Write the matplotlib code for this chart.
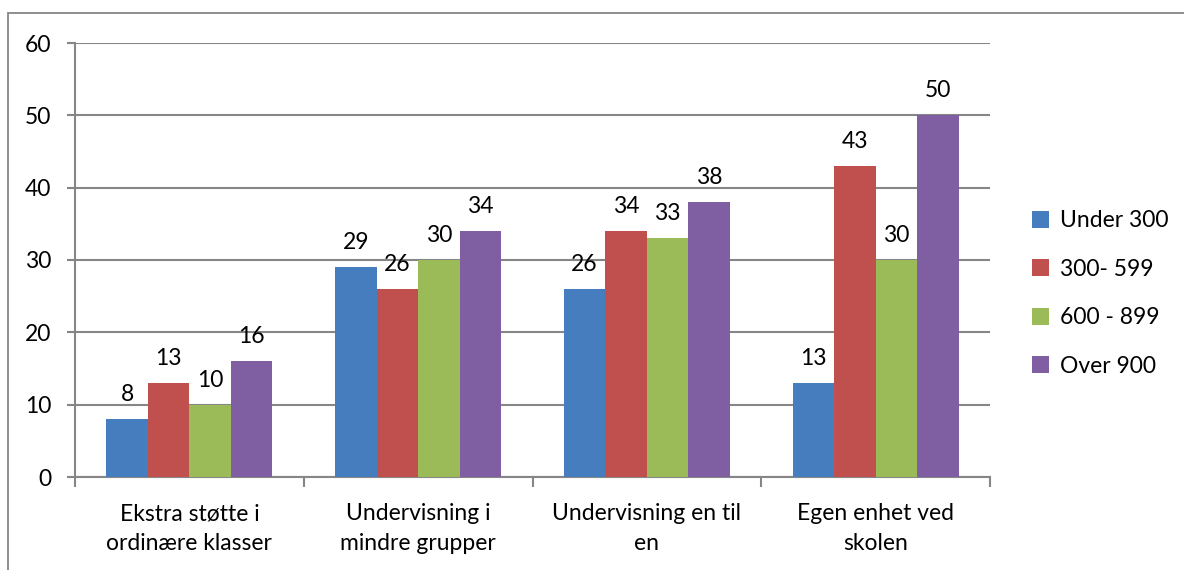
import matplotlib
matplotlib.use("Agg")
import matplotlib.pyplot as plt
import numpy as np
from matplotlib.patches import Rectangle

categories = ["Ekstra støtte i\nordinære klasser",
              "Undervisning i\nmindre grupper",
              "Undervisning en til\nen",
              "Egen enhet ved\nskolen"]
series_names = ["Under 300", "300- 599", "600 - 899", "Over 900"]
under_300 = [8, 29, 26, 13]
s300_599 = [13, 26, 34, 43]
s600_899 = [10, 30, 33, 30]
over_900 = [16, 34, 38, 50]
y_ticks = [0, 10, 20, 30, 40, 50, 60]

series = [under_300, s300_599, s600_899, over_900]
colors = ["#457DBF", "#C0504D", "#9BBB59", "#7F5FA1"]
grid_col = "#868686"

plt.rcParams['font.family'] = ['Lato', 'DejaVu Sans']
fs = 16.5

W, H = 1184, 570
fig = plt.figure(figsize=(W / 100, H / 100), dpi=100)
ax = fig.add_axes([75 / W, 1 - 477 / H, (990 - 75) / W, (477 - 43) / H])

# outer chart frame (left and top edges)
fig.add_artist(Rectangle((8 / W, -0.1), 1.2, 1 - 13 / H + 0.1,
                         transform=fig.transFigure, fill=False,
                         edgecolor=grid_col, linewidth=1.3, clip_on=False))

x = np.arange(len(categories))
bw = 0.1815
for i, (vals, col, name) in enumerate(zip(series, colors, series_names)):
    pos = x + (i - 1.5) * bw
    bars = ax.bar(pos, vals, width=bw, color=col, label=name, zorder=3)
    for b, v in zip(bars, vals):
        ax.annotate(str(v), (b.get_x() + b.get_width() / 2, v),
                    xytext=(0, 13), textcoords="offset points",
                    ha="center", va="baseline", fontsize=fs)

ax.set_xlim(-0.5, len(categories) - 0.5)
ax.set_ylim(0, 60)
ax.set_yticks(y_ticks)
ax.yaxis.grid(True, color=grid_col, linewidth=1.5, zorder=0)
ax.set_axisbelow(True)

ax.set_xticks(x)
ax.set_xticklabels(categories, fontsize=fs, linespacing=1.5)
ax.set_xticks(np.arange(-0.5, len(categories) + 0.5, 1), minor=True)
ax.tick_params(axis="x", which="major", length=0, pad=19)
ax.tick_params(axis="x", which="minor", length=7, width=1.5, color=grid_col)
ax.tick_params(axis="y", length=6, width=1.5, color=grid_col, labelsize=fs, pad=11)

for s in ["top", "right"]:
    ax.spines[s].set_visible(False)
for s in ["left", "bottom"]:
    ax.spines[s].set_color(grid_col)
    ax.spines[s].set_linewidth(1.5)

leg = ax.legend(loc="center left", bbox_to_anchor=(1.046, 0.423), frameon=False,
                borderpad=0, borderaxespad=0,
                fontsize=fs, handlelength=0.75, handleheight=0.75,
                handletextpad=0.45, labelspacing=1.2)

fig.savefig("out.png", dpi=100)
